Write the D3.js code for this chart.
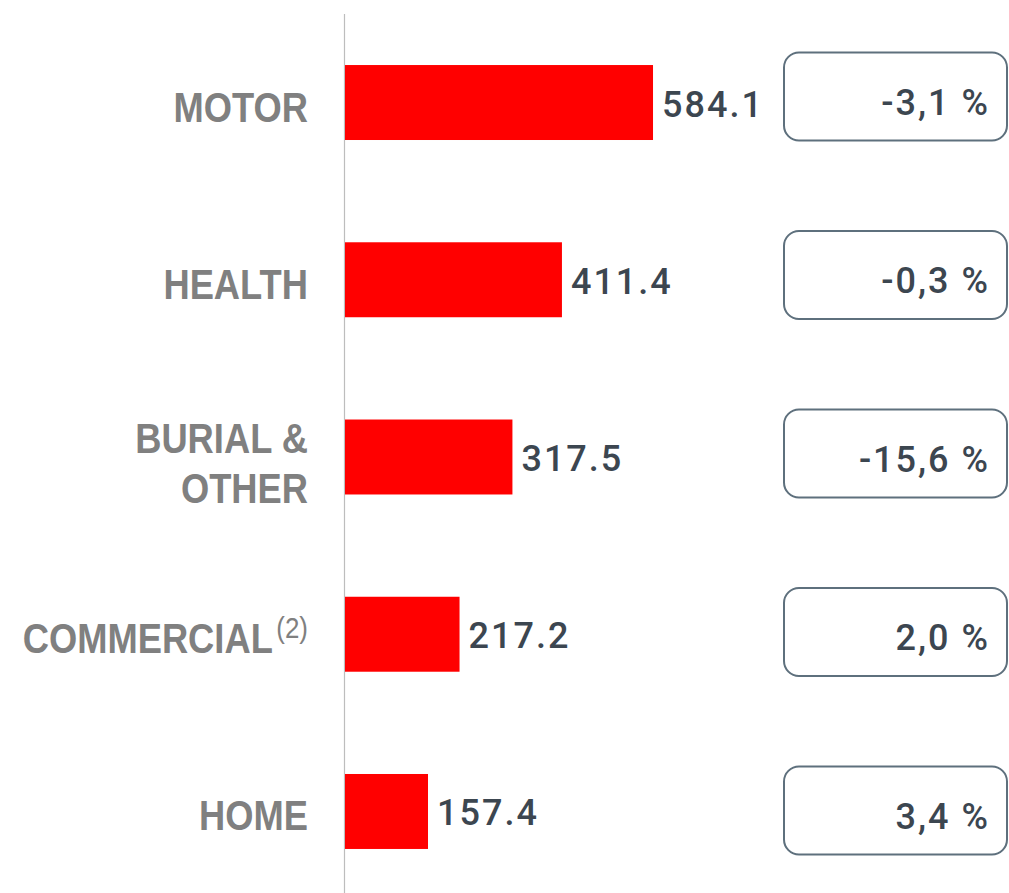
<!DOCTYPE html>
<html>
<head>
<meta charset="utf-8">
<script src="https://cdn.jsdelivr.net/npm/d3@7"></script>
<style>
  html, body { margin: 0; padding: 0; background: #fff; }
  svg { display: block; }
</style>
</head>
<body>
<div id="chart"></div>
<script>
// data
var categories = ["MOTOR", "HEALTH", "BURIAL & OTHER", "COMMERCIAL", "HOME"];
var labelLines = [["MOTOR"], ["HEALTH"], ["BURIAL &", "OTHER"], ["COMMERCIAL"], ["HOME"]];
var superscripts = ["", "", "", "(2)", ""];
var values = [584.1, 411.4, 317.5, 217.2, 157.4];
var changes = ["-3,1 %", "-0,3 %", "-15,6 %", "2,0 %", "3,4 %"];

var width = 1009,
    height = 893;

var svg = d3.select("#chart").append("svg")
    .attr("width", width)
    .attr("height", height);

var rows = categories.map(function(c, i) {
    return { cat: c, lines: labelLines[i], sup: superscripts[i], value: values[i], change: changes[i] };
});

var x = d3.scaleLinear()
    .domain([0, 600])
    .range([345, 661.4]);

var y = d3.scaleBand()
    .domain(categories)
    .range([13.9, 900.1])
    .paddingInner(0.577)
    .paddingOuter(0.2885);

// boxes sit a bit off the bar centres
var boxY = d3.scalePoint()
    .domain(categories)
    .range([96.5, 810.5]);

// axis line
svg.append("line")
    .attr("x1", 344.5).attr("x2", 344.5)
    .attr("y1", 14).attr("y2", height)
    .attr("stroke", "#bdbdbd")
    .attr("stroke-width", 1.2);

// bars
svg.selectAll("rect.bar")
    .data(rows)
    .enter()
    .append("rect")
    .attr("class", "bar")
    .attr("x", x(0))
    .attr("y", function(d) { return y(d.cat); })
    .attr("width", function(d) { return x(d.value) - x(0); })
    .attr("height", y.bandwidth())
    .attr("fill", "#ff0000");

// value labels
svg.selectAll("text.value")
    .data(rows)
    .enter()
    .append("text")
    .attr("class", "value")
    .attr("x", function(d) { return x(d.value) + 9; })
    .attr("y", function(d) { return y(d.cat) + y.bandwidth() / 2 + 14; })
    .attr("font-family", "Roboto, 'Noto Sans', sans-serif")
    .attr("font-weight", 500)
    .attr("font-size", 36)
    .attr("letter-spacing", 2)
    .attr("fill", "#3c4650")
    .text(function(d) { return d.value.toFixed(1); });

// category labels (narrow look: squeeze a bold sans horizontally)
var lab = svg.selectAll("g.cat")
    .data(rows)
    .enter()
    .append("g")
    .attr("class", "cat")
    .attr("transform", "translate(308,0) scale(0.865,1)")
    .append("text")
    .attr("text-anchor", "end")
    .attr("font-family", "'Liberation Sans', Arial, sans-serif")
    .attr("font-weight", "bold")
    .attr("font-size", 42)
    .attr("fill", "#808080");

lab.each(function(d) {
    var t = d3.select(this);
    var cy = y(d.cat) + y.bandwidth() / 2;
    if (d.lines.length == 1) {
        t.append("tspan")
            .attr("x", 0)
            .attr("y", cy + 19)
            .text(d.lines[0]);
        if (d.sup) {
            t.append("tspan")
                .attr("dx", 4)
                .attr("dy", -15)
                .attr("font-size", 30)
                .attr("font-weight", "normal")
                .text(d.sup);
        }
    } else {
        d.lines.forEach(function(l, k) {
            t.append("tspan")
                .attr("x", 0)
                .attr("y", cy - 3.5 + k * 50)
                .text(l);
        });
    }
});

// change boxes
svg.selectAll("rect.box")
    .data(rows)
    .enter()
    .append("rect")
    .attr("class", "box")
    .attr("x", 784)
    .attr("y", function(d) { return boxY(d.cat) - 44; })
    .attr("width", 223)
    .attr("height", 88)
    .attr("rx", 15)
    .attr("ry", 15)
    .attr("fill", "none")
    .attr("stroke", "#5e707d")
    .attr("stroke-width", 2);

svg.selectAll("text.change")
    .data(rows)
    .enter()
    .append("text")
    .attr("class", "change")
    .attr("x", 990)
    .attr("y", function(d) { return boxY(d.cat) + 18; })
    .attr("text-anchor", "end")
    .attr("font-family", "Roboto, 'Noto Sans', sans-serif")
    .attr("font-weight", 500)
    .attr("font-size", 36)
    .attr("letter-spacing", 2)
    .attr("fill", "#3c4650")
    .text(function(d) { return d.change; });
</script>
</body>
</html>
